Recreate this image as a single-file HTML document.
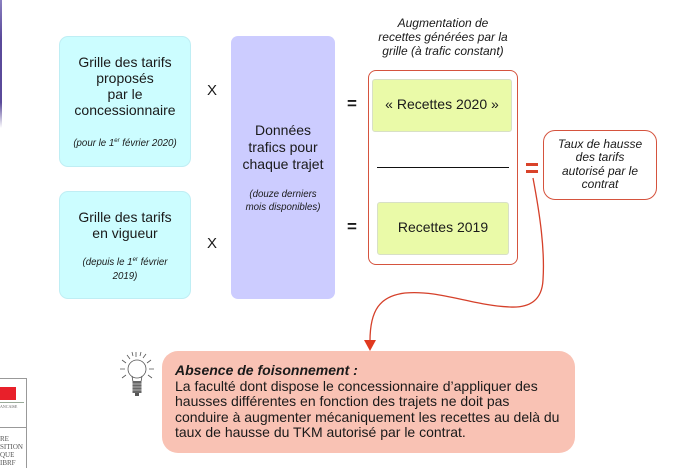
<!DOCTYPE html>
<html><head><meta charset="utf-8"><style>
html,body{margin:0;padding:0;background:#fff;}
body{width:694px;height:468px;position:relative;overflow:hidden;font-family:"Liberation Sans",Arial,sans-serif;color:#1a1a1a;}
.a{position:absolute;}
.c{text-align:center;}
.box{position:absolute;box-sizing:border-box;}
.sm{font-size:9.7px;font-style:italic;line-height:13px;}
.md{font-size:14px;line-height:16px;}
sup{font-size:6px;vertical-align:4px;line-height:0;}
</style></head><body>

<!-- left purple edge -->
<div class="a" style="left:0;top:0;width:2px;height:128px;background:linear-gradient(#8a7fc0,#5a4a9a 30%,#5a4a9a 80%,rgba(90,74,154,0));"></div>

<!-- logo bottom-left -->
<div class="a" style="left:0;top:378px;width:27px;height:90px;border-top:1px solid #999;border-right:1px solid #999;box-sizing:border-box;"></div>
<div class="a" style="left:0;top:427px;width:27px;height:1px;background:#999;"></div>
<div class="a" style="left:0;top:387px;width:16px;height:13px;background:#e8202a;"></div>
<div class="a" style="left:0;top:402px;width:24px;height:1px;background:#9a9;"></div>
<div class="a" style="left:0;top:404px;font-family:'Liberation Serif',serif;font-size:4px;color:#666;">ANCAISE</div>
<div class="a" style="left:0;top:435px;font-family:'Liberation Serif',serif;font-size:7px;line-height:8px;color:#555;">RE<br>SITION<br>QUE<br>IBRF</div>

<!-- cyan box 1 -->
<div class="box" style="left:59px;top:36px;width:132px;height:131px;background:#ccfdff;border:1px solid #bfeef4;border-radius:9px;"></div>
<div class="a c md" style="left:59px;top:54px;width:132px;">Grille des tarifs<br>proposés<br>par le<br>concessionnaire</div>
<div class="a c sm" style="left:59px;top:137px;width:132px;">(pour le 1<sup>er</sup> février 2020)</div>

<!-- cyan box 2 -->
<div class="box" style="left:59px;top:191px;width:132px;height:108px;background:#ccfdff;border:1px solid #bfeef4;border-radius:9px;"></div>
<div class="a c md" style="left:59px;top:210px;width:132px;line-height:15.5px;">Grille des tarifs<br>en vigueur</div>
<div class="a c sm" style="left:59px;top:256px;width:132px;line-height:14px;">(depuis le 1<sup>er</sup> février<br>2019)</div>

<!-- X signs -->
<div class="a" style="left:207px;top:82px;font-size:15px;">X</div>
<div class="a" style="left:207px;top:235px;font-size:15px;">X</div>

<!-- purple box -->
<div class="box" style="left:231px;top:36px;width:104px;height:263px;background:#ccccff;border-radius:7px;"></div>
<div class="a c" style="left:231px;top:122px;width:104px;font-size:14px;line-height:16.8px;">Données<br>trafics pour<br>chaque trajet</div>
<div class="a c sm" style="left:231px;top:188px;width:104px;">(douze derniers<br>mois disponibles)</div>

<!-- = signs -->
<div class="a" style="left:347px;top:94px;font-size:17px;font-weight:bold;">=</div>
<div class="a" style="left:347px;top:217px;font-size:17px;font-weight:bold;">=</div>

<!-- top italic caption -->
<div class="a c" style="left:358px;top:16px;width:170px;font-size:12px;font-style:italic;line-height:14px;">Augmentation de<br>recettes générées par la<br>grille (à trafic constant)</div>

<!-- red outline box -->
<div class="box" style="left:368px;top:70px;width:150px;height:195px;border:1px solid #d5533e;border-radius:8px;"></div>
<div class="box" style="left:372px;top:79px;width:140px;height:53px;background:#eafaa8;border:1px solid #d8e0c6;border-radius:3px;"></div>
<div class="a c" style="left:372px;top:96px;width:140px;font-size:14px;">« Recettes 2020 »</div>
<div class="a" style="left:377px;top:167px;width:132px;height:1px;background:#111;"></div>
<div class="box" style="left:377px;top:202px;width:132px;height:53px;background:#eafaa8;border:1px solid #d8e0c6;border-radius:3px;"></div>
<div class="a c" style="left:377px;top:219px;width:132px;font-size:14px;">Recettes 2019</div>

<!-- red = -->
<div class="a" style="left:526px;top:163px;width:12px;height:3px;background:#d9432a;"></div>
<div class="a" style="left:526px;top:170px;width:12px;height:3px;background:#d9432a;"></div>

<!-- Taux box -->
<div class="box" style="left:543px;top:130px;width:114px;height:70px;border:1px solid #d5533e;border-radius:12px;background:#fff;"></div>
<div class="a c" style="left:543px;top:138px;width:114px;font-size:12px;font-style:italic;line-height:13.3px;">Taux de hausse<br>des tarifs<br>autorisé par le<br>contrat</div>

<!-- curve + arrow -->
<svg class="a" style="left:0;top:0;" width="694" height="468">
<path d="M533 178 C540 215,545 250,543 280 C542 300,530 308,510 307 C470 305,440 290,405 293 C380 296,370 310,370 341" fill="none" stroke="#d5402a" stroke-width="1.3"/>
<polygon points="364,340 376,340 370,351" fill="#e0391f"/>
<!-- lightbulb -->
<g stroke="#555" stroke-width="0.8" fill="none">
<circle cx="137" cy="369" r="9" fill="#fff"/>
<path d="M132 376 L133 382 M142 376 L141 382"/>
<path d="M136 357 L136 352 M130 359 L127 355 M143 358 L146 354 M126 363 L122 360 M147 363 L151 360 M125 369 L120 369 M149 369 L154 369 M126 375 L122 378 M148 375 L152 378 M133 356 L132 352 M140 356 L141 352"/>
</g>
<rect x="132.5" y="381" width="9" height="12" fill="#666"/>
<path d="M132.5 384 L141.5 384 M132.5 387 L141.5 387 M132.5 390 L141.5 390" stroke="#ccc" stroke-width="0.8"/>
<rect x="135" y="393" width="4" height="3" fill="#555"/>
</svg>

<!-- pink note -->
<div class="box" style="left:162px;top:351px;width:413px;height:102px;background:#f9c2b4;border-radius:16px;"></div>
<div class="a" style="left:175px;top:363px;width:400px;font-size:14px;line-height:15.5px;white-space:nowrap;"><b><i>Absence de foisonnement :</i></b><br>La faculté dont dispose le concessionnaire d’appliquer des<br>hausses différentes en fonction des trajets ne doit pas<br>conduire à augmenter mécaniquement les recettes au delà du<br>taux de hausse du TKM autorisé par le contrat.</div>

</body></html>
